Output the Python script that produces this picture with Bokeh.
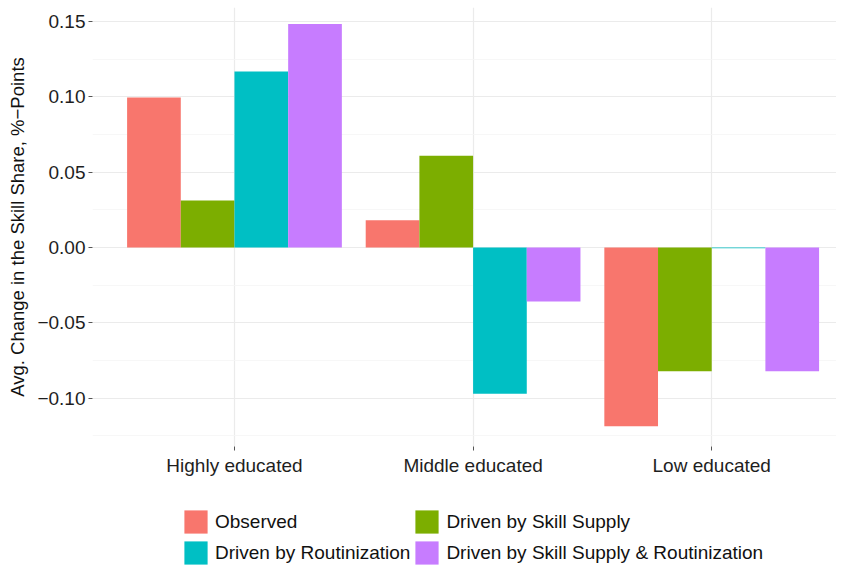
from bokeh.plotting import figure
from bokeh.layouts import column
from bokeh.models import FixedTicker, Legend, LegendItem, ColumnDataSource, Range1d
from bokeh.embed import file_html
from bokeh.resources import INLINE

categories = ["Highly educated", "Middle educated", "Low educated"]
series = ["Observed", "Driven by Skill Supply", "Driven by Routinization",
          "Driven by Skill Supply & Routinization"]
colors = ["#F8766D", "#7CAE00", "#00BFC4", "#C77CFF"]
observed = [0.0996, 0.0181, -0.1187]
skill_supply = [0.0312, 0.0610, -0.0821]
routinization = [0.1169, -0.0970, -0.0005]
skill_and_rout = [0.1484, -0.0359, -0.0821]
values = [observed, skill_supply, routinization, skill_and_rout]
y_ticks = [-0.10, -0.05, 0.00, 0.05, 0.10, 0.15]
y_minor = [-0.125, -0.075, -0.025, 0.025, 0.075, 0.125]

W = 836
FONT = "Liberation Sans"
p = figure(width=W, height=480, output_backend="svg", toolbar_location=None,
           x_range=Range1d(0.405, 3.523), y_range=Range1d(-0.1321, 0.1594),
           min_border_left=92, min_border_right=0, min_border_top=7,
           min_border_bottom=34)
p.outline_line_color = None
p.background_fill_color = "white"

bar_w = 0.225
offsets = [-0.3375, -0.1125, 0.1125, 0.3375]
sources = []
for s, vals, col, off in zip(series, values, colors, offsets):
    xs = [i + 1 + off for i in range(len(categories))]
    src = ColumnDataSource(dict(x=xs, top=vals))
    sources.append(src)
    p.vbar(x="x", top="top", bottom=0, width=bar_w, source=src,
           fill_color=col, line_color=None)

# axes
p.xaxis.ticker = FixedTicker(ticks=[1, 2, 3])
p.xaxis.major_label_overrides = {1: categories[0], 2: categories[1], 3: categories[2]}
p.yaxis.ticker = FixedTicker(ticks=y_ticks, minor_ticks=y_minor)
p.yaxis.major_label_overrides = {t: f"{t:.2f}".replace("-", "\u2212") for t in y_ticks}
for ax in (p.xaxis[0], p.yaxis[0]):
    ax.axis_line_color = None
    ax.major_tick_line_color = "#555555"
    ax.major_tick_out = 4
    ax.major_tick_in = 0
    ax.minor_tick_line_color = None
    ax.major_label_text_font = FONT
    ax.major_label_text_font_size = "19px"
    ax.major_label_text_color = "#1e1e1e"
p.xaxis.major_label_standoff = 4
p.yaxis.major_label_standoff = 3
p.yaxis.axis_label = "Avg. Change in the Skill Share, %\u2212Points"
p.yaxis.axis_label_text_font = FONT
p.yaxis.axis_label_text_font_size = "18.5px"
p.yaxis.axis_label_text_font_style = "normal"
p.yaxis.axis_label_text_color = "#111111"
p.yaxis.axis_label_standoff = 6

p.xgrid.ticker = FixedTicker(ticks=[1, 2, 3])
p.xgrid.grid_line_color = "#EBEBEB"
p.xgrid.grid_line_width = 1.2
p.ygrid.grid_line_color = "#EBEBEB"
p.ygrid.grid_line_width = 1.2
p.ygrid.minor_grid_line_color = "#F5F5F5"
p.ygrid.minor_grid_line_width = 0.8
p.xgrid.level = "underlay"
p.ygrid.level = "underlay"

# legend panel (same data sources; its ranges keep the bars out of view)
lg = figure(width=W, height=85, output_backend="svg", toolbar_location=None,
            x_range=Range1d(100, 101), y_range=Range1d(100, 101),
            min_border_left=0, min_border_right=0, min_border_top=0,
            min_border_bottom=0)
lg.axis.visible = False
lg.grid.visible = False
lg.outline_line_color = None
items = []
for s, col, src in zip(series, colors, sources):
    r = lg.vbar(x="x", top="top", bottom=0, width=bar_w, source=src,
                fill_color=col, line_color=None)
    items.append(LegendItem(label=s, renderers=[r]))
legend = Legend(items=items, orientation="horizontal", nrows=2,
                location=(89, -2),
                label_text_font=FONT, label_text_font_size="19px",
                label_text_color="#111111",
                glyph_width=29, glyph_height=29, label_standoff=5,
                label_height=29,
                spacing=2, padding=0, margin=0,
                border_line_color=None, background_fill_alpha=0)
lg.add_layout(legend, "center")

layout = column(p, lg, spacing=0)
open("out.html", "w").write(file_html(layout, INLINE))
